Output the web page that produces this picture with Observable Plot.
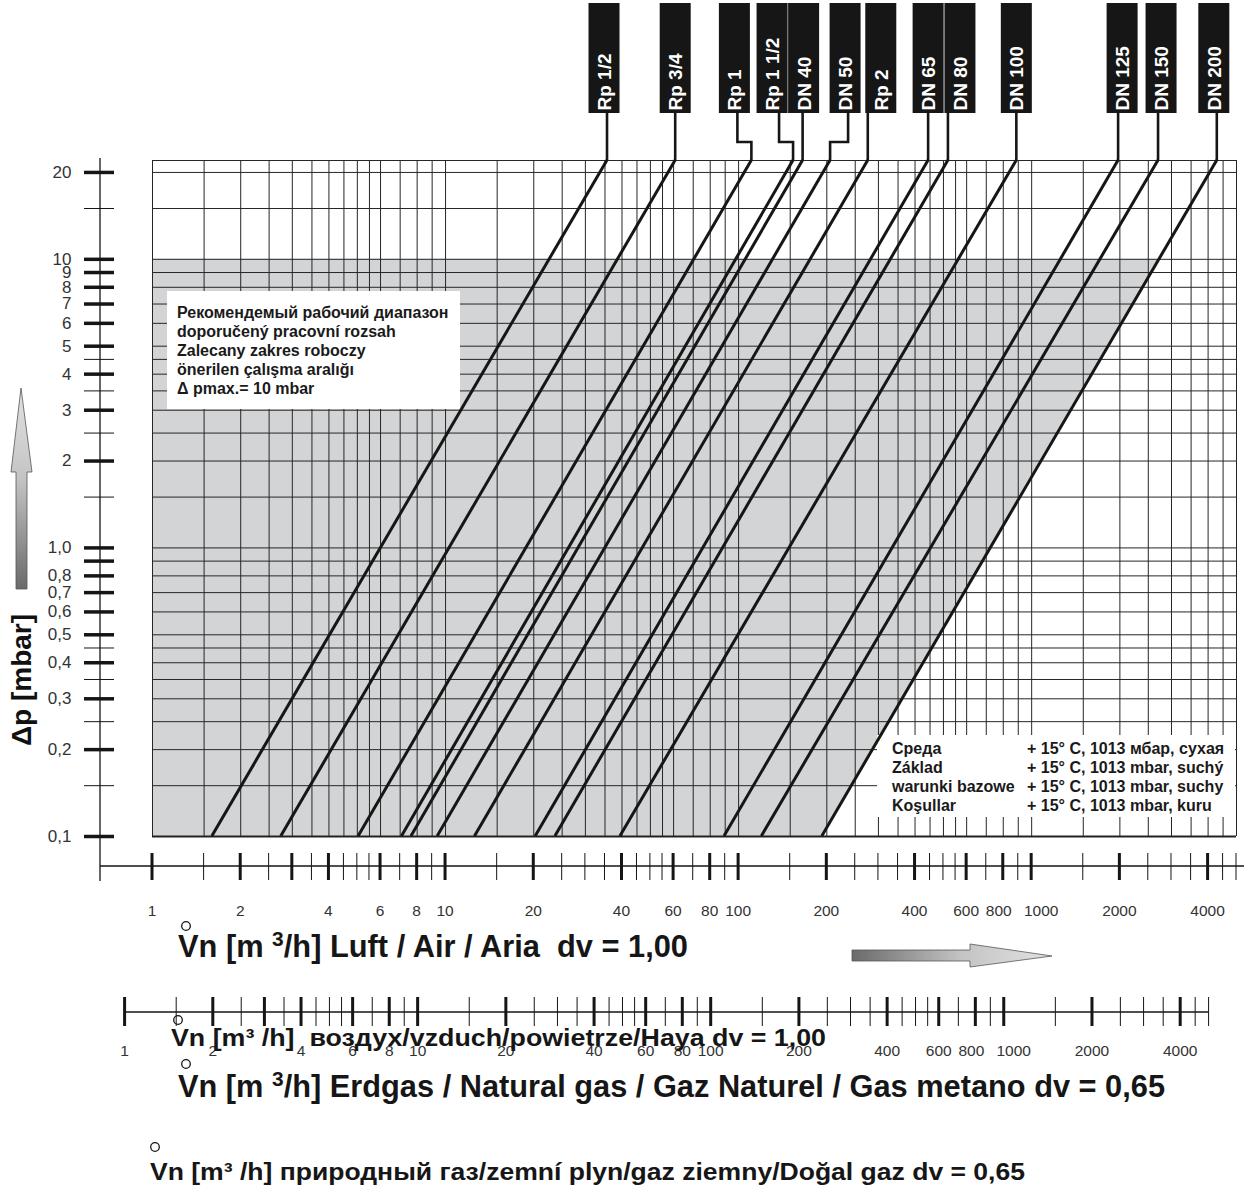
<!DOCTYPE html>
<html><head><meta charset="utf-8">
<script src="https://cdn.jsdelivr.net/npm/d3@7"></script>
<script src="https://cdn.jsdelivr.net/npm/@observablehq/plot@0.6"></script>
<style>
body{margin:0;background:#fff;}
#chart{position:relative;width:1244px;height:1196px;}
</style></head><body><div id="chart"></div>
<script>
// ---------------- data ----------------
const sizes      = ["Rp 1/2","Rp 3/4","Rp 1","Rp 1 1/2","DN 40","DN 50","Rp 2","DN 65","DN 80","DN 100","DN 125","DN 150","DN 200"];
const flowAtMin  = [1.6, 2.75, 5.05, 7.1, 7.65, 9.4, 12.6, 20.3, 23.7, 39.5, 89.5, 120, 193];   // m3/h at 0.1 mbar
const flowAtTop  = [35.7, 61, 111, 154, 166, 206, 277, 445, 520, 890, 1980, 2710, 4300];       // m3/h at 22 mbar
const dpMin = 0.1, dpTop = 22, dpMax = 10;
const flowMin = 1, flowMax = 5000;
const dvGas = 0.65;
const xLabels = [1,2,4,6,8,10,20,40,60,80,100,200,400,600,800,1000,2000,4000];
const xExtraMajor = [3];
const yLabels = [0.1,0.2,0.3,0.4,0.5,0.6,0.7,0.8,1,2,3,4,5,6,7,8,9,10,20];
const yExtraMajor = [0.9];
const yMinor = [0.15,0.25,0.35,0.45,1.5,2.5,3.5,4.5,15];
const mantissasX = [1,1.5,2,2.5,3,3.5,4,4.5,5,5.5,6,7,8,9];
const mantissasY = [1,1.5,2,2.5,3,3.5,4,4.5,5,6,7,8,9];
const yGridExtra = [10,15,20,22];
const rangeText = ["Рекомендемый рабочий диапазон","doporučený pracovní rozsah","Zalecany zakres roboczy","önerilen çalışma aralığı","Δ pmax.= 10 mbar"];
const condLabels = ["Среда","Základ","warunki bazowe","Koşullar"];
const condValues = ["+ 15° C, 1013 мбар, сухая","+ 15° C, 1013 mbar, suchý","+ 15° C, 1013 mbar, suchy","+ 15° C, 1013 mbar, kuru"];

// ---------------- derived ----------------
const r6 = v => +v.toPrecision(6);
const xTicks = [1,10,100,1000].flatMap(d => mantissasX.map(m => r6(m*d))).filter(v => v <= flowMax);
const xGrid = xTicks;
const yGrid = [0.1,1].flatMap(d => mantissasY.map(m => r6(m*d))).concat(yGridExtra);
function qAt(i, dp){ // straight line in log-log between the two read points
  const t = (Math.log10(dp)-Math.log10(dpMin))/(Math.log10(dpTop)-Math.log10(dpMin));
  return 10 ** (Math.log10(flowAtMin[i]) + t*(Math.log10(flowAtTop[i])-Math.log10(flowAtMin[i])));
}
const last = sizes.length-1;
const grayPts = [{dp:dpMin,x1:flowMin,x2:qAt(last,dpMin)},{dp:dpMax,x1:flowMin,x2:qAt(last,dpMax)}];
const fmtY = v => v < 1 ? v.toFixed(1).replace(".",",") : (v === 1 ? "1,0" : String(v));
const yMajor = yLabels.concat(yExtraMajor);

const FONT = "'Liberation Sans', Arial, Helvetica, sans-serif";

const plot = Plot.plot({
  width: 1244, height: 1196,
  marginLeft: 114, marginRight: 8, marginTop: 160, marginBottom: 360,
  x: {type:"log", domain:[flowMin, flowMax], range:[152, 1236], axis:null},
  y: {type:"log", domain:[dpMin, dpTop], range:[836, 160]},
  style: {fontFamily: FONT, background:"#fff", color:"#111", overflow:"visible"},
  marks: [
    Plot.areaX(grayPts, {y:"dp", x1:"x1", x2:"x2", fill:"#d3d4d6"}),
    Plot.ruleX(xGrid, {y1:dpMin, y2:dpTop, stroke:"#262626", strokeWidth:1}),
    Plot.ruleY(yGrid, {x1:flowMin, x2:flowMax, stroke:"#262626", strokeWidth:1}),
    Plot.ruleY([dpMin], {x1:flowMin, x2:flowMax, stroke:"#222", strokeWidth:1.8}),
    Plot.axisY(yMajor, {anchor:"left", tickSize:30, tickPadding:13, strokeWidth:3.5, stroke:"#151515", fill:"#333",
      fontSize:17, tickFormat: v => yLabels.includes(v) ? fmtY(v) : "", label:null}),
    Plot.axisY(yMinor, {anchor:"left", tickSize:30, tickPadding:13, strokeWidth:1, stroke:"#151515",
      tickFormat: () => "", label:null})
  ]
});
document.getElementById("chart").appendChild(plot);

const sx = plot.scale("x").apply, sy = plot.scale("y").apply;
const svg = d3.select(plot);
const defs = svg.append("defs");
const gu = defs.append("linearGradient").attr("id","gUp").attr("x1",0).attr("y1",0).attr("x2",0).attr("y2",1);
gu.append("stop").attr("offset","0%").attr("stop-color","#e2e2e2");
gu.append("stop").attr("offset","45%").attr("stop-color","#c4c4c4");
gu.append("stop").attr("offset","100%").attr("stop-color","#6a6a6a");
const gr = defs.append("linearGradient").attr("id","gRight").attr("x1",0).attr("y1",0).attr("x2",1).attr("y2",0);
gr.append("stop").attr("offset","0%").attr("stop-color","#6a6a6a");
gr.append("stop").attr("offset","55%").attr("stop-color","#c4c4c4");
gr.append("stop").attr("offset","100%").attr("stop-color","#e2e2e2");

// white annotation boxes (above grid, below the curves)
const boxes = svg.append("g").attr("text-anchor","start").attr("font-weight","bold").attr("fill","#1a1a1a");
boxes.append("rect").attr("x",167).attr("y",291).attr("width",293).attr("height",118).attr("fill","#fff");
rangeText.forEach((t,i) => boxes.append("text").attr("x",177).attr("y",317.5+i*19.2).attr("font-size",16).text(t));
boxes.append("rect").attr("x",877).attr("y",735).attr("width",358).attr("height",82).attr("fill","#fff");
condLabels.forEach((t,i) => {
  boxes.append("text").attr("x",892).attr("y",753.5+i*19).attr("font-size",16).text(t);
  boxes.append("text").attr("x",1027).attr("y",753.5+i*19).attr("font-size",16).text(condValues[i]);
});

// curves (through Plot scales)
const curves = svg.append("g");
sizes.forEach((s,i) => {
  curves.append("line").attr("x1",sx(flowAtMin[i])).attr("y1",sy(dpMin)).attr("x2",sx(flowAtTop[i])).attr("y2",sy(dpTop))
    .attr("stroke","#161616").attr("stroke-width",3);
});

// leaders + labels at the top (label layout: box offset from the curve end, jogged leaders)
const boxDx = {"Rp 1/2":-3,"Rp 3/4":0,"Rp 1":-17,"Rp 1 1/2":-21,"DN 40":1,"DN 50":15,"Rp 2":13,"DN 65":0,"DN 80":12,"DN 100":0,"DN 125":4,"DN 150":3,"DN 200":-3};
const jogDx = {"Rp 1":-14, "Rp 1 1/2":-14, "DN 50":18};
const lab = svg.append("g").attr("text-anchor","start");
sizes.forEach((s,i) => {
  const xt = sx(flowAtTop[i]), yt = sy(dpTop);
  const xb = xt + (boxDx[s]||0);
  const path = (s in jogDx) ? `M${xt+jogDx[s]},112 V142 H${xt} V${yt}` : `M${xt},112 V${yt}`;
  lab.append("path").attr("d",path).attr("fill","none").attr("stroke","#161616").attr("stroke-width",2.6);
  lab.append("rect").attr("x",xb-15.5).attr("y",3).attr("width",31).attr("height",110).attr("fill","#161616");
  lab.append("text").attr("transform",`translate(${xb+7},110.5) rotate(-90)`).attr("font-size",19).attr("font-weight","bold")
    .attr("fill","#fff").text(s);
});

// axes lines & ticks
const ax = svg.append("g").attr("stroke","#151515");
ax.append("line").attr("x1",100).attr("x2",100).attr("y1",158).attr("y2",881).attr("stroke-width",1.3);
ax.append("line").attr("x1",100).attr("x2",1244).attr("y1",866).attr("y2",866).attr("stroke-width",1.3);
const isMajor = v => xLabels.includes(v) || xExtraMajor.includes(v);
xTicks.forEach(v => {
  ax.append("line").attr("x1",sx(v)).attr("x2",sx(v)).attr("y1",853).attr("y2",880).attr("stroke-width",isMajor(v)?3:1);
});
const k = Math.sqrt(dvGas);
ax.append("line").attr("x1",sx(1*k)).attr("x2",sx(flowMax*k)).attr("y1",1012).attr("y2",1012).attr("stroke-width",1.3);
xTicks.forEach(v => {
  ax.append("line").attr("x1",sx(v*k)).attr("x2",sx(v*k)).attr("y1",997).attr("y2",1026).attr("stroke-width",isMajor(v)?3:1);
});
const labelDx = {800:-4, 1000:10};
const tl = svg.append("g").attr("font-size",15.5).attr("fill","#333").attr("text-anchor","middle");
xLabels.forEach(v => {
  tl.append("text").attr("x",sx(v)+(labelDx[v]||0)).attr("y",916).text(String(v));
  tl.append("text").attr("x",sx(v*k)+(labelDx[v]||0)).attr("y",1056).text(String(v));
});

// y title
svg.append("text").attr("transform","translate(31,680) rotate(-90)").attr("text-anchor","middle")
  .attr("font-size",28).attr("font-weight","bold").attr("fill","#111").text("Δp [mbar]");

// arrows
svg.append("path").attr("d","M21,388 L32,472 L27,472 L27,589 L16,589 L16,472 L11,472 Z")
  .attr("fill","url(#gUp)").attr("stroke","#555").attr("stroke-width",0.8);
svg.append("path").attr("d","M852,950 L970,950 L970,944 L1052,956 L970,967 L970,961 L852,961 Z")
  .attr("fill","url(#gRight)").attr("stroke","#555").attr("stroke-width",0.8);

// titles
const T = svg.append("g").attr("font-weight","bold").attr("fill","#161616").attr("text-anchor","start").style("white-space","pre");
function title(x, y, fs, parts, ringDx, ringDy, len){
  const t = T.append("text").attr("x",x).attr("y",y).attr("font-size",fs);
  parts.forEach(p => {
    const s = t.append("tspan").text(p.t);
    if (p.sup) s.attr("font-size",fs*0.68).attr("dy",-fs*0.36);
    if (p.down) s.attr("dy",fs*0.36);
  });
  if (len) t.attr("textLength",len).attr("lengthAdjust","spacingAndGlyphs");
  T.append("circle").attr("cx",x+ringDx).attr("cy",y-ringDy).attr("r",4.3).attr("fill","none").attr("stroke","#161616").attr("stroke-width",1.3);
}
title(178, 957, 30.5, [{t:"Vn [m "},{t:"3",sup:true},{t:"/h] Luft / Air / Aria  dv = 1,00",down:true}], 8, 31, 510);
title(171, 1046, 24, [{t:"Vn [m³ /h]  воздух/vzduch/powietrze/Haya dv = 1,00"}], 7, 26, 655);
title(178, 1097, 30.5, [{t:"Vn [m "},{t:"3",sup:true},{t:"/h] Erdgas / Natural gas / Gaz Naturel / Gas metano dv = 0,65",down:true}], 8, 33, 987);
title(150, 1180, 24, [{t:"Vn [m³ /h] природный газ/zemní plyn/gaz ziemny/Doğal gaz dv = 0,65"}], 5, 33, 875);
</script>
</body></html>
